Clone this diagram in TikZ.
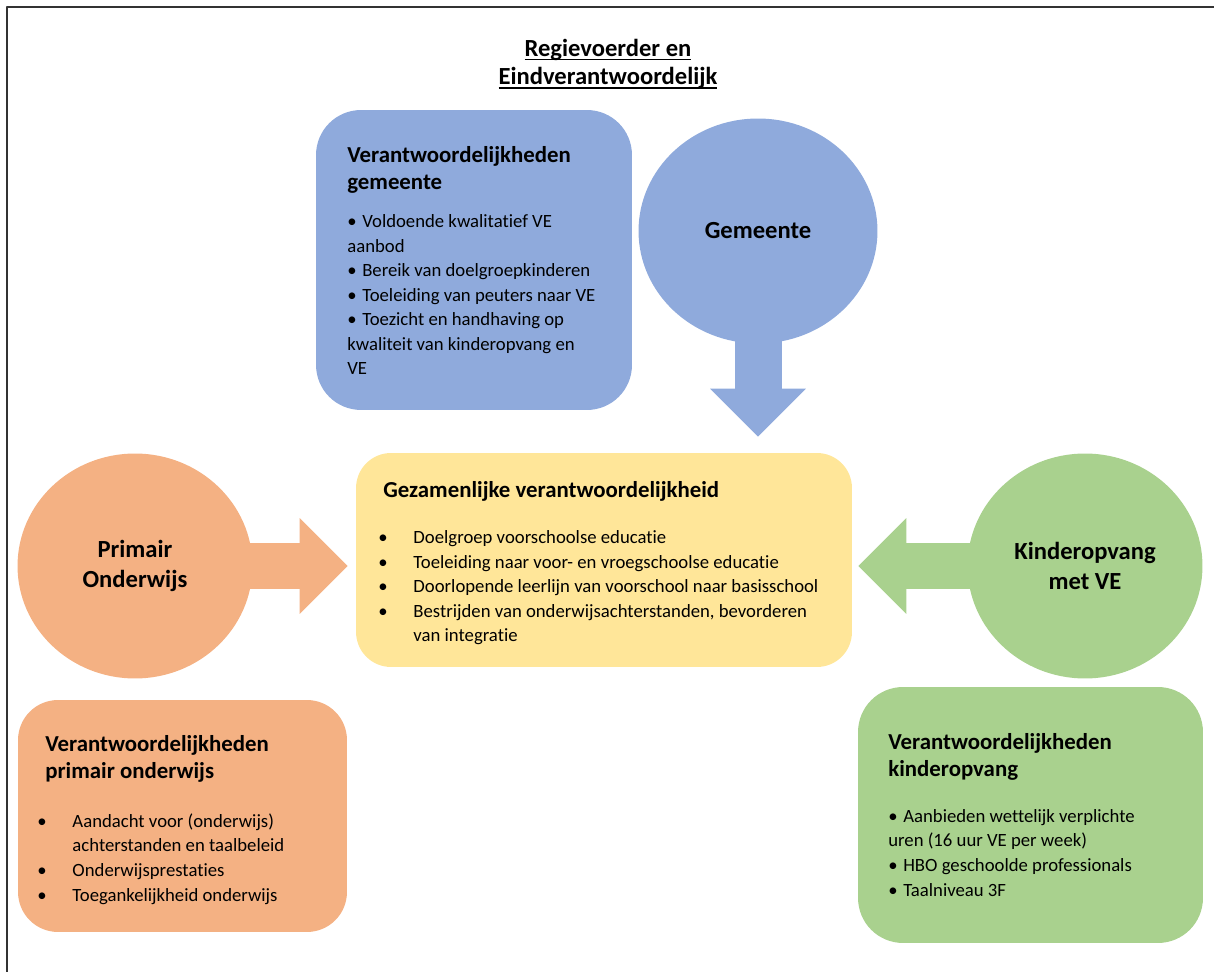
\documentclass[tikz,border=0pt]{standalone}
\usepackage{fontspec}
\setmainfont{Carlito}[Ligatures=NoCommon]
\usetikzlibrary{shapes.geometric,arrows.meta}
\definecolor{gemblue}{HTML}{8FAADC}
\definecolor{poorange}{HTML}{F4B183}
\definecolor{gezyellow}{HTML}{FFE699}
\definecolor{kogreen}{HTML}{A9D18E}
\newcommand{\bul}{\makebox[0.8em][l]{\textbullet}}
\newcommand{\itm}{\makebox[20pt][l]{\textbullet}}
\newcommand{\undl}[1]{\setbox0\hbox{#1}\rlap{\rule[-2.2pt]{\wd0}{0.8pt}}\box0}
\begin{document}
\begin{tikzpicture}[x=0.02cm, y=-0.02cm, line join=round,
	head/.style={font=\bfseries\fontsize{13}{15.5}\selectfont, align=left, anchor=base west, inner sep=0pt},
	list/.style={font=\fontsize{10.65}{14}\selectfont, align=left, anchor=base west, inner sep=0pt},
	blob/.style={ellipse, minimum width=4.7cm, minimum height=4.5cm, inner sep=0pt, align=center, font=\bfseries\fontsize{14}{17}\selectfont},
	card/.style={rectangle, rounded corners=0.9cm},
	flow/.style={line width=0.94cm, -{Triangle[length=0.96cm,width=1.86cm]}}]
	\useasboundingbox (0,0) rectangle (1214,972);
	\draw[line width=1.1pt, color=black!80] (7,972) -- (7,7) -- (1214,7);
	\node[font=\bfseries\fontsize{14}{16.4}\selectfont, align=center, anchor=base, inner sep=0pt] (title) at (608,85) {\undl{Regievoerder en}\\\undl{Eindverantwoordelijk}};
	\node[card, fill=gemblue, minimum width=6.32cm, minimum height=6cm] (gembox) at (474,260) {};
	\node[card, fill=gezyellow, rounded corners=0.7cm, minimum width=9.92cm, minimum height=4.28cm] (gez) at (604,560) {};
	\node[card, fill=poorange, rounded corners=0.8cm, minimum width=6.58cm, minimum height=4.64cm] (pobox) at (182.5,816) {};
	\node[card, fill=kogreen, minimum width=6.9cm, minimum height=5.12cm] (kobox) at (1030.5,815) {};
	\node[blob, fill=gemblue, minimum width=4.78cm] (gem) at (758,231) {Gemeente};
	\node[blob, fill=poorange] (po) at (135,566) {Primair\\Onderwijs};
	\node[blob, fill=kogreen] (ko) at (1085,566) {Kinderopvang\\met VE};
	\draw[flow, gemblue, shorten >=0.32cm] ([yshift=0.5cm]gem.south) -- (gem.south |- gez.north);
	\draw[flow, poorange, shorten >=0.16cm] ([xshift=-0.5cm]po.east) -- (po.east -| gez.west);
	\draw[flow, kogreen, shorten >=0.12cm] ([xshift=0.5cm]ko.west) -- (ko.west -| gez.east);
	\node[head] (gemhead) at (347,190) {Verantwoordelijkheden\\gemeente};
	\node[list] (gemlist) at (347,375) {\bul Voldoende kwalitatief VE\\aanbod\\\bul Bereik van doelgroepkinderen\\\bul Toeleiding van peuters naar VE\\\bul Toezicht en handhaving op\\kwaliteit van kinderopvang en\\VE};
	\node[head] (gezhead) at (383,498) {Gezamenlijke verantwoordelijkheid};
	\node[list] (gezlist) at (378,642) {\itm Doelgroep voorschoolse educatie\\\itm Toeleiding naar voor- en vroegschoolse educatie\\\itm Doorlopende leerlijn van voorschool naar basisschool\\\itm Bestrijden van onderwijsachterstanden, bevorderen\\\hspace*{20pt}van integratie};
	\node[head] (pohead) at (45,779) {Verantwoordelijkheden\\primair onderwijs};
	\node[list] (polist) at (37,901) {\itm Aandacht voor (onderwijs)\\\hspace*{20pt}achterstanden en taalbeleid\\\itm Onderwijsprestaties\\\itm Toegankelijkheid onderwijs};
	\node[head] (kohead) at (888,777) {Verantwoordelijkheden\\kinderopvang};
	\node[list] (kolist) at (888,896) {\bul Aanbieden wettelijk verplichte\\uren (16 uur VE per week)\\\bul HBO geschoolde professionals\\\bul Taalniveau 3F};
\end{tikzpicture}
\end{document}
